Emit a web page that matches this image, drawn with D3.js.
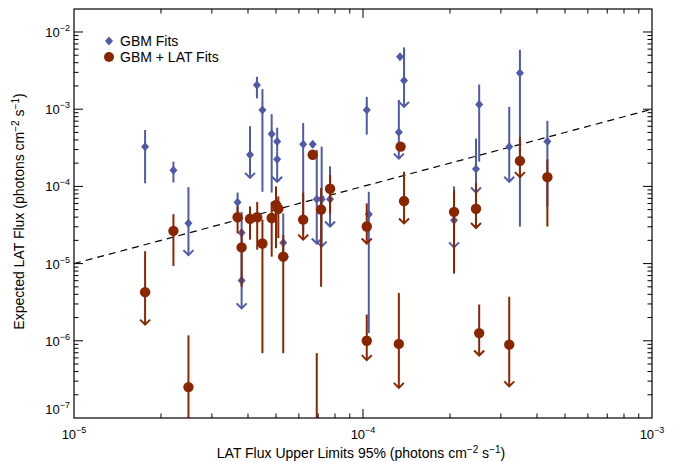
<!DOCTYPE html>
<html>
<head>
<meta charset="utf-8">
<script src="https://cdn.jsdelivr.net/npm/d3@7"></script>
<style>
body { margin: 0; background: #fff; }
text { font-family: "Liberation Sans", Arial, sans-serif; }
</style>
</head>
<body>
<svg id="chart" width="685" height="462"></svg>
<script>
// values are log10 exponents
// GBM fits: x, y, error low, error high, upper limit flag
const gbmX  = [-4.754,-4.656,-4.604,-4.434,-4.42,-4.42,-4.391,-4.367,-4.348,-4.316,-4.297,-4.297,-4.276,-4.207,-4.174,-4.16,-4.143,-4.114,-3.987,-3.98,-3.872,-3.858,-3.876,-3.685,-3.609,-3.598,-3.494,-3.457,-3.362];
const gbmY  = [-3.485,-3.79,-4.477,-4.205,-4.60,-5.22,-3.59,-2.686,-3.01,-3.32,-3.42,-3.65,-4.73,-3.455,-3.455,-4.166,-4.166,-4.166,-3.01,-4.36,-2.32,-2.63,-3.30,-4.44,-3.775,-2.94,-3.485,-2.53,-3.42];
const gbmLo = [-3.96,-3.95,-4.89,-4.39,-4.75,-5.58,-3.89,-2.86,-4.07,-4.08,-3.55,-3.94,-4.97,-4.6,-3.5,-4.74,-4.78,-4.52,-3.33,-5.9,-2.36,-2.97,-3.64,-4.79,-4.08,-3.68,-3.94,-4.52,-4.26];
const gbmHi = [-3.27,-3.68,-4.01,-4.08,-4.33,-4.75,-3.22,-2.58,-2.74,-3.065,-3.24,-3.55,-4.35,-3.18,-3.42,-3.53,-3.485,-3.74,-2.84,-4.07,-2.28,-2.20,-2.88,-4.0,-3.38,-2.68,-2.97,-2.23,-3.15];
const gbmUL = [0,0,1,0,0,1,1,0,0,0,0,1,1,0,0,1,1,1,0,0,0,1,1,1,1,0,1,0,0];

// GBM + LAT fits
const latX  = [-4.754,-4.656,-4.604,-4.434,-4.42,-4.391,-4.366,-4.348,-4.316,-4.301,-4.293,-4.276,-4.207,-4.174,-4.16,-4.145,-4.114,-3.987,-3.987,-3.87,-3.858,-3.876,-3.685,-3.609,-3.598,-3.494,-3.457,-3.362];
const latY  = [-5.37,-4.576,-6.60,-4.40,-4.79,-4.42,-4.40,-4.74,-4.41,-4.24,-4.29,-4.91,-4.43,-3.59,-7.3,-4.30,-4.03,-4.52,-6.0,-3.485,-4.19,-6.04,-4.33,-4.29,-5.90,-6.05,-3.67,-3.88];
const latLo = [-5.79,-5.03,-7.2,-4.61,-5.30,-4.69,-4.82,-6.16,-4.91,-4.80,-4.67,-6.16,-4.69,-3.64,-7.6,-5.30,-4.35,-4.74,-6.25,-3.52,-4.48,-6.61,-5.13,-4.54,-6.19,-6.59,-3.88,-4.52];
const latHi = [-4.84,-4.36,-5.93,-4.26,-4.56,-4.26,-4.2,-4.43,-4.2,-4.0,-4.13,-4.63,-4.08,-3.55,-6.16,-4.02,-3.85,-4.22,-5.66,-3.45,-3.81,-5.38,-4.05,-3.96,-5.53,-5.43,-3.36,-3.65];
const latUL = [1,0,0,0,0,0,0,0,0,0,0,0,1,0,0,0,0,1,1,0,1,1,0,1,1,1,1,0];

const xTicks = [-5, -4, -3];
const yTicks = [-7, -6, -5, -4, -3, -2];
const legendNames = ["GBM Fits", "GBM + LAT Fits"];

const blue = "#4f5aa8", red = "#8b2500";
const pL = 74, pR = 652, pT = 9, pB = 418;

const svg = d3.select("#chart");
const x = d3.scaleLog().domain([1e-5, 1e-3]).range([pL, pR]);
const y = d3.scaleLog().domain([1e-7, Math.pow(10, -2 + 23 / 77.25)]).range([pB, pT]);

svg.append("clipPath").attr("id", "c").append("rect")
    .attr("x", pL).attr("y", pT).attr("width", pR - pL).attr("height", pB - pT);
const plot = svg.append("g").attr("clip-path", "url(#c)");

// y = x reference line
plot.append("line")
    .attr("x1", x(1e-5)).attr("y1", y(1e-5)).attr("x2", x(1e-3)).attr("y2", y(1e-3))
    .attr("stroke", "#000").attr("stroke-width", 1.2).attr("stroke-dasharray", "7,5");

const p = e => Math.pow(10, e);

function drawSeries(xs, ys, lo, hi, ul, color, shape) {
    const g = plot.append("g");
    xs.forEach((xv, i) => {
        const cx = x(p(xv));
        g.append("line").attr("x1", cx).attr("x2", cx)
            .attr("y1", y(p(hi[i]))).attr("y2", y(p(lo[i])))
            .attr("stroke", color).attr("stroke-width", 2);
        if (ul[i]) {
            const ty = y(p(lo[i]));
            g.append("path").attr("d", `M${cx - 5},${ty - 5}L${cx},${ty}L${cx + 5},${ty - 5}`)
                .attr("fill", "none").attr("stroke", color).attr("stroke-width", 2);
        }
    });
    xs.forEach((xv, i) => {
        const cx = x(p(xv)), cy = y(p(ys[i]));
        if (shape === "diamond") {
            g.append("path").attr("d", `M${cx},${cy - 4.5}L${cx + 4},${cy}L${cx},${cy + 4.5}L${cx - 4},${cy}Z`)
                .attr("fill", color);
        } else {
            g.append("circle").attr("cx", cx).attr("cy", cy).attr("r", 5.2).attr("fill", color);
        }
    });
}
drawSeries(gbmX, gbmY, gbmLo, gbmHi, gbmUL, blue, "diamond");
drawSeries(latX, latY, latLo, latHi, latUL, red, "circle");

// frame
svg.append("rect").attr("x", pL).attr("y", pT).attr("width", pR - pL).attr("height", pB - pT)
    .attr("fill", "none").attr("stroke", "#000").attr("stroke-width", 1.2);

// ticks on all sides
const ax = svg.append("g").attr("stroke", "#000").attr("stroke-width", 1);
for (let d = -5; d < -3; d++) {
    for (let m = 1; m < 10; m++) {
        const v = m * p(d), len = m === 1 ? 9 : 4.5, xx = x(v);
        if (m === 1 && d === -5) continue;
        ax.append("line").attr("x1", xx).attr("x2", xx).attr("y1", pB).attr("y2", pB - len);
        ax.append("line").attr("x1", xx).attr("x2", xx).attr("y1", pT).attr("y2", pT + len);
    }
}
for (let d = -7; d < -1; d++) {
    for (let m = 1; m < 10; m++) {
        const v = m * p(d), len = m === 1 ? 9 : 4.5, yy = y(v);
        if (yy < pT || (m === 1 && d === -7)) continue;
        ax.append("line").attr("y1", yy).attr("y2", yy).attr("x1", pL).attr("x2", pL + len);
        ax.append("line").attr("y1", yy).attr("y2", yy).attr("x1", pR).attr("x2", pR - len);
    }
}

function powLabel(g, txt, sup, xx, yy, anchor) {
    const t = g.append("text").attr("x", xx).attr("y", yy).attr("text-anchor", anchor)
        .attr("font-size", 13).attr("fill", "#000");
    t.append("tspan").text(txt);
    t.append("tspan").attr("dy", -6).attr("font-size", 9).text(sup);
}
const lab = svg.append("g");
xTicks.forEach(d => powLabel(lab, "10", "\u2212" + (-d), x(p(d)), 439, "middle"));
yTicks.forEach(d => {
    const yy = Math.min(y(p(d)) + 5, 414);
    powLabel(lab, "10", "\u2212" + (-d), pL - 4, yy, "end");
});

// axis titles
const xt = svg.append("text").attr("x", (pL + pR) / 2 - 2).attr("y", 458)
    .attr("text-anchor", "middle").attr("font-size", 14);
xt.append("tspan").text("LAT Flux Upper Limits 95% (photons cm");
xt.append("tspan").attr("dy", -5).attr("font-size", 10).text("\u22122");
xt.append("tspan").attr("dy", 5).text(" s");
xt.append("tspan").attr("dy", -5).attr("font-size", 10).text("\u22121");
xt.append("tspan").attr("dy", 5).text(")");

const yt = svg.append("text").attr("transform", `translate(24,${(pT + pB) / 2 - 2}) rotate(-90)`)
    .attr("text-anchor", "middle").attr("font-size", 14);
yt.append("tspan").text("Expected LAT Flux (photons cm");
yt.append("tspan").attr("dy", -5).attr("font-size", 10).text("\u22122");
yt.append("tspan").attr("dy", 5).text(" s");
yt.append("tspan").attr("dy", -5).attr("font-size", 10).text("\u22121");
yt.append("tspan").attr("dy", 5).text(")");

// legend
const lg = svg.append("g");
lg.append("path").attr("d", "M109,36.5L113,41L109,45.5L105,41Z").attr("fill", blue);
lg.append("circle").attr("cx", 109).attr("cy", 57).attr("r", 5).attr("fill", red);
legendNames.forEach((n, i) => lg.append("text").attr("x", 120).attr("y", 46 + i * 16)
    .attr("font-size", 14).text(n));
</script>
</body>
</html>
